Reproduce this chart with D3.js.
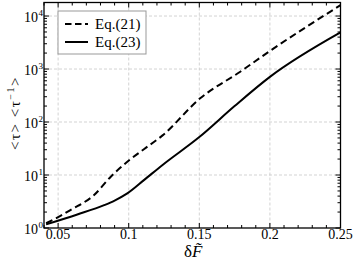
<!DOCTYPE html>
<html>
<head>
<meta charset="utf-8">
<script src="https://cdn.jsdelivr.net/npm/d3@7"></script>
<style>
  body { margin: 0; background: #fff; }
  svg { display: block; font-family: "Liberation Serif", "DejaVu Serif", serif; }
</style>
</head>
<body>
<div id="chart"></div>
<script>
'use strict';

// values
const xs21 = [0.0415, 0.05, 0.0589, 0.0755, 0.0873, 0.1003, 0.111, 0.124, 0.1506, 0.179, 0.199, 0.25];
const eq21 = [1.23, 1.6, 2.2, 4.2, 9.3, 19, 31, 56, 280, 890, 2100, 16000];
const xs23 = [0.0415, 0.0636, 0.0826, 0.09, 0.099, 0.111, 0.124, 0.15, 0.175, 0.2, 0.25];
const eq23 = [1.17, 1.8, 2.7, 3.3, 4.5, 8.1, 15.5, 52, 200, 710, 4900];
const xTicks = [0.05, 0.1, 0.15, 0.2, 0.25];
const yTicks = [1, 10, 100, 1000, 10000];
const series = [
  { name: 'Eq.(21)', xs: xs21, ys: eq21, dash: '7,4' },
  { name: 'Eq.(23)', xs: xs23, ys: eq23, dash: null }
];

const W = 353, H = 261;
const L = 44, R = 340.5, T = 2.5, B = 228;

const $svg = d3.select('#chart').append('svg').attr('width', W).attr('height', H);

const x = d3.scaleLinear().domain([0.04, 0.25]).range([L, R]);
const y = d3.scaleLog().domain([1, 18000]).range([B, T]);

// grid
const $grid = $svg.append('g')
  .attr('stroke', '#c8c8c8').attr('stroke-width', 0.8).attr('stroke-dasharray', '3,2');
xTicks.filter((t) => t < 0.25).forEach((t) => {
  $grid.append('line').attr('x1', x(t)).attr('x2', x(t)).attr('y1', T).attr('y2', B);
});
yTicks.filter((t) => t > 1).forEach((t) => {
  $grid.append('line').attr('x1', L).attr('x2', R).attr('y1', y(t)).attr('y2', y(t));
});

// ticks on all sides, pointing inward
const $ticks = $svg.append('g').attr('stroke', '#000').attr('stroke-width', 1);
d3.range(0.04, 0.2501, 0.01).forEach((t) => {
  const major = xTicks.some((m) => Math.abs(m - t) < 1e-6);
  const len = major ? 5 : 3;
  $ticks.append('line').attr('x1', x(t)).attr('x2', x(t)).attr('y1', B).attr('y2', B - len);
  $ticks.append('line').attr('x1', x(t)).attr('x2', x(t)).attr('y1', T).attr('y2', T + len);
});
y.ticks().filter((t) => t >= 1 && t <= 18000).forEach((t) => {
  const major = yTicks.indexOf(t) >= 0;
  const len = major ? 5 : 3;
  $ticks.append('line').attr('x1', L).attr('x2', L + len).attr('y1', y(t)).attr('y2', y(t));
  $ticks.append('line').attr('x1', R).attr('x2', R - len).attr('y1', y(t)).attr('y2', y(t));
});

// curves
const line = d3.line().curve(d3.curveMonotoneX);
series.forEach((s) => {
  const pts = s.xs.map((v, i) => [x(v), y(s.ys[i])]);
  $svg.append('path')
    .attr('d', line(pts))
    .attr('fill', 'none')
    .attr('stroke', '#000')
    .attr('stroke-width', 2)
    .attr('stroke-dasharray', s.dash);
});

// frame
$svg.append('rect')
  .attr('x', L).attr('y', T).attr('width', R - L).attr('height', B - T)
  .attr('fill', 'none').attr('stroke', '#000').attr('stroke-width', 1.3);

// tick labels
xTicks.forEach((t) => {
  $svg.append('text')
    .attr('x', x(t)).attr('y', B + 10.5)
    .attr('text-anchor', 'middle').attr('font-size', 14)
    .text(d3.format('')(t));
});
yTicks.forEach((t) => {
  const e = Math.round(Math.log10(t));
  $svg.append('text')
    .attr('x', L - 6).attr('y', y(t) + 6)
    .attr('text-anchor', 'end').attr('font-size', 14)
    .text('10');
  $svg.append('text')
    .attr('x', L - 5.5).attr('y', y(t))
    .attr('font-size', 9)
    .text(e);
});

// axis titles
const $yl = $svg.append('text')
  .attr('transform', 'translate(19.5,113) rotate(-90)')
  .attr('text-anchor', 'middle').attr('font-size', 15)
  .attr('letter-spacing', 1.5);
$yl.append('tspan').text('<τ> <τ');
$yl.append('tspan').attr('dy', -6).attr('font-size', 10).text('−1');
$yl.append('tspan').attr('dy', 6).text('>');

$svg.append('text')
  .attr('x', 184).attr('y', 256.5).attr('font-size', 17)
  .html('δ<tspan font-style="italic">F\u0303</tspan>');

// legend
const $lg = $svg.append('g');
$lg.append('rect')
  .attr('x', 58).attr('y', 11).attr('width', 88).attr('height', 43)
  .attr('fill', '#fff').attr('stroke', '#999').attr('stroke-width', 1);
series.forEach((s, i) => {
  const ly = 24 + i * 18;
  $lg.append('line')
    .attr('x1', 65).attr('x2', 88).attr('y1', ly).attr('y2', ly)
    .attr('stroke', '#000').attr('stroke-width', 2)
    .attr('stroke-dasharray', s.dash ? '6.5,3.5' : null);
  $lg.append('text')
    .attr('x', 95).attr('y', ly + 5)
    .attr('font-size', 15)
    .text(s.name);
});
</script>
</body>
</html>
